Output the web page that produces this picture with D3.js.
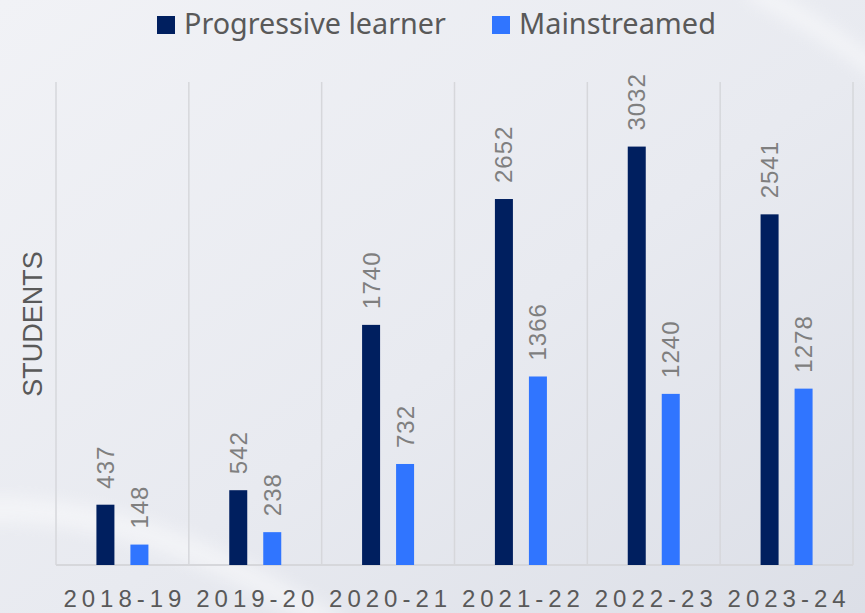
<!DOCTYPE html>
<html>
<head>
<meta charset="utf-8">
<script src="https://cdn.jsdelivr.net/npm/d3@7"></script>
<style>
  html, body { margin: 0; padding: 0; background: #eceef3; }
  svg { display: block; }
</style>
</head>
<body>
<div id="chart"></div>
<script>
// chart data
const years = ["2018-19", "2019-20", "2020-21", "2021-22", "2022-23", "2023-24"];
const progressive = [437, 542, 1740, 2652, 3032, 2541];
const mainstreamed = [148, 238, 732, 1366, 1240, 1278];
const seriesNames = ["Progressive learner", "Mainstreamed"];
const seriesColors = ["#001f5f", "#3075ff"];

const W = 865, H = 613;
const margin = {top: 82, right: 12, bottom: 48, left: 56};
const width = W - margin.left - margin.right;
const height = H - margin.top - margin.bottom;

const svg = d3.select("#chart").append("svg")
  .attr("width", W)
  .attr("height", H);

// background gradient + soft white streaks
const defs = svg.append("defs");
const grad = defs.append("linearGradient").attr("id", "bg")
  .attr("x1", "0").attr("y1", "0").attr("x2", "1").attr("y2", "1");
grad.append("stop").attr("offset", "0%").attr("stop-color", "#f1f2f6");
grad.append("stop").attr("offset", "55%").attr("stop-color", "#e8eaf0");
grad.append("stop").attr("offset", "100%").attr("stop-color", "#dcdfe7");
defs.append("filter").attr("id", "blur")
  .attr("x", "-50%").attr("y", "-50%").attr("width", "200%").attr("height", "200%")
  .append("feGaussianBlur").attr("stdDeviation", 9);

svg.append("rect").attr("width", W).attr("height", H).attr("fill", "url(#bg)");
svg.append("path")
  .attr("d", "M-40,512 C80,500 200,540 340,630")
  .attr("stroke", "#ffffff").attr("stroke-width", 22).attr("fill", "none")
  .attr("opacity", 0.5).attr("filter", "url(#blur)");
svg.append("path")
  .attr("d", "M750,-10 C800,15 840,40 890,80")
  .attr("stroke", "#ffffff").attr("stroke-width", 14).attr("fill", "none")
  .attr("opacity", 0.6).attr("filter", "url(#blur)");

const g = svg.append("g").attr("transform", `translate(${margin.left},${margin.top})`);

// scales
const x = d3.scaleBand().domain(years).range([0, width]);
const y = d3.scaleLinear().domain([0, 3500]).range([height, 0]);
const barW = 18, gap = 16;

// vertical separators between categories
const edges = years.map(d => x(d)).concat([width]);
g.append("g").selectAll("line").data(edges).enter().append("line")
  .attr("x1", d => d).attr("x2", d => d)
  .attr("y1", 0).attr("y2", height)
  .attr("stroke", "#d6d7db").attr("stroke-width", 1.5);

// baseline
g.append("line")
  .attr("x1", 0).attr("x2", width)
  .attr("y1", height).attr("y2", height)
  .attr("stroke", "#d6d7db").attr("stroke-width", 2);

// bars + labels for each series
const series = [progressive, mainstreamed];
series.forEach(function (vals, si) {
  const off = si === 0 ? -(gap / 2 + barW) : gap / 2;
  const cx = (d, i) => x(years[i]) + x.bandwidth() / 2 + off + barW / 2;

  g.append("g").selectAll("rect").data(vals).enter().append("rect")
    .attr("x", (d, i) => cx(d, i) - barW / 2)
    .attr("y", d => y(d))
    .attr("width", barW)
    .attr("height", d => height - y(d))
    .attr("fill", seriesColors[si]);

  g.append("g").selectAll("text").data(vals).enter().append("text")
    .attr("transform", (d, i) => `translate(${cx(d, i) + 8.5},${y(d) - 16}) rotate(-90)`)
    .attr("text-anchor", "start")
    .attr("font-family", "Liberation Sans, Arial, sans-serif")
    .attr("font-size", 24)
    .attr("letter-spacing", 1)
    .attr("fill", "#7f7f7f")
    .text(d => d);
});

// x axis labels
g.append("g").selectAll("text").data(years).enter().append("text")
  .attr("x", d => x(d) + x.bandwidth() / 2 + 2.5)
  .attr("y", height + 42)
  .attr("text-anchor", "middle")
  .attr("font-family", "Liberation Sans, Arial, sans-serif")
  .attr("font-size", 24)
  .attr("letter-spacing", 5)
  .attr("fill", "#595959")
  .text(d => d);

// y axis title
svg.append("text")
  .attr("transform", "translate(42,324) rotate(-90)")
  .attr("text-anchor", "middle")
  .attr("font-family", "Liberation Sans, Arial, sans-serif")
  .attr("font-size", 27)
  .attr("fill", "#595959")
  .text("STUDENTS");

// legend
const legendX = [157, 492];
const legendW = [262, 197];
seriesNames.forEach(function (name, i) {
  svg.append("rect")
    .attr("x", legendX[i]).attr("y", 16)
    .attr("width", 18).attr("height", 18)
    .attr("fill", seriesColors[i]);
  const t = svg.append("text")
    .attr("x", legendX[i] + 27).attr("y", 34)
    .attr("font-family", "Noto Sans, sans-serif")
    .attr("font-size", 26)
    .attr("fill", "#595959")
    .text(name);
  // shrink/grow font so text spans the same width as in the reference
  const len = t.node().getComputedTextLength();
  t.attr("font-size", 26 * legendW[i] / len);
});
</script>
</body>
</html>
